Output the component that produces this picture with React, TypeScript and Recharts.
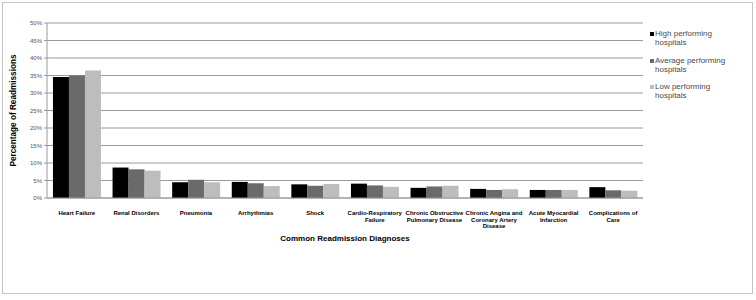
import React from 'react';
import { BarChart, Bar, XAxis, YAxis, CartesianGrid, Label } from 'recharts';

const categories = [
  'Heart Failure',
  'Renal Disorders',
  'Pneumonia',
  'Arrhythmias',
  'Shock',
  'Cardio-Respiratory\nFailure',
  'Chronic Obstructive\nPulmonary Disease',
  'Chronic Angina and\nCoronary Artery\nDisease',
  'Acute Myocardial\nInfarction',
  'Complications of\nCare',
];
const highPerforming = [34.6, 8.7, 4.5, 4.6, 3.9, 4.1, 2.9, 2.6, 2.3, 3.1];
const averagePerforming = [35.0, 8.2, 5.2, 4.2, 3.5, 3.6, 3.3, 2.3, 2.3, 2.2];
const lowPerforming = [36.4, 7.8, 4.5, 3.4, 4.0, 3.2, 3.5, 2.5, 2.3, 2.1];
const yTicks = [0, 5, 10, 15, 20, 25, 30, 35, 40, 45, 50];
const seriesNames = [
  ['High performing', 'hospitals'],
  ['Average performing', 'hospitals'],
  ['Low performing', 'hospitals'],
];
const seriesColors = ['#000000', '#6a6a6a', '#bdbdbd'];

const data = categories.map((c, i) => ({
  name: c,
  high: highPerforming[i],
  avg: averagePerforming[i],
  low: lowPerforming[i],
}));

const FONT = '"Liberation Sans", Arial, sans-serif';

const XTick = (props: any) => {
  const { x, y, payload } = props;
  const lines = String(payload.value).split('\n');
  return (
    <text x={x} y={y} textAnchor="middle" fontSize={6} fontWeight="bold" fill="#000" fontFamily={FONT}>
      {lines.map((l: string, i: number) => (
        <tspan key={i} x={x} dy={i === 0 ? 9 : 6.7}>{l}</tspan>
      ))}
    </text>
  );
};

const LegendBox = () => (
  <div style={{ position: 'absolute', left: 650, top: 29, width: 100, height: 80, fontFamily: FONT, fontSize: 8, color: '#4a4a4a' }}>
    {seriesNames.map((lines, i) => (
      <div key={i} style={{ position: 'absolute', left: 0, top: i * 26.7, lineHeight: '9px' }}>
        <div style={{ position: 'absolute', left: 0, top: 3, width: 4, height: 4, background: seriesColors[i] }} />
        <div style={{ marginLeft: 5, whiteSpace: 'nowrap' }}>
          {lines.map((l, j) => (<div key={j}>{l}</div>))}
        </div>
      </div>
    ))}
  </div>
);

export default function App() {
  return (
    <div style={{ position: 'absolute', left: 0, top: 0, width: 756, height: 300, background: '#fff' }}>
      <div style={{ position: 'absolute', left: 2, top: 2, width: 751, height: 292, boxSizing: 'border-box', border: '1px solid #c4c4c4' }} />
      <BarChart
        width={756}
        height={300}
        data={data}
        margin={{ top: 23, right: 113, left: 7, bottom: 42 }}
        barCategoryGap="10%"
        barGap={0}
        style={{ fontFamily: FONT }}
      >
        <CartesianGrid vertical={false} stroke="#9a9a9a" strokeWidth={1} />
        <XAxis
          dataKey="name"
          interval={0}
          height={60}
          tickLine={false}
          axisLine={{ stroke: '#9a9a9a' }}
          tick={<XTick />}
        >
          <Label value="Common Readmission Diagnoses" position="insideTop" offset={37} fontSize={8} fontWeight="bold" fill="#000" fontFamily={FONT} />
        </XAxis>
        <YAxis
          width={40}
          domain={[0, 50]}
          ticks={yTicks}
          tickFormatter={(v: number) => `${v}%`}
          tickLine={{ stroke: '#9a9a9a' }}
          tickSize={3}
          axisLine={{ stroke: '#9a9a9a' }}
          tick={{ fontSize: 6, fill: '#555', fontFamily: FONT }}
          tickMargin={2}
          interval={0}
        >
          <Label value="Percentage of Readmissions" angle={-90} position="insideLeft" offset={6} fontSize={8.2} fontWeight="bold" fill="#000" fontFamily={FONT} style={{ textAnchor: 'middle' }} />
        </YAxis>
        <Bar dataKey="high" name="High performing hospitals" fill={seriesColors[0]} isAnimationActive={false} />
        <Bar dataKey="avg" name="Average performing hospitals" fill={seriesColors[1]} isAnimationActive={false} />
        <Bar dataKey="low" name="Low performing hospitals" fill={seriesColors[2]} isAnimationActive={false} />
      </BarChart>
      <LegendBox />
    </div>
  );
}
